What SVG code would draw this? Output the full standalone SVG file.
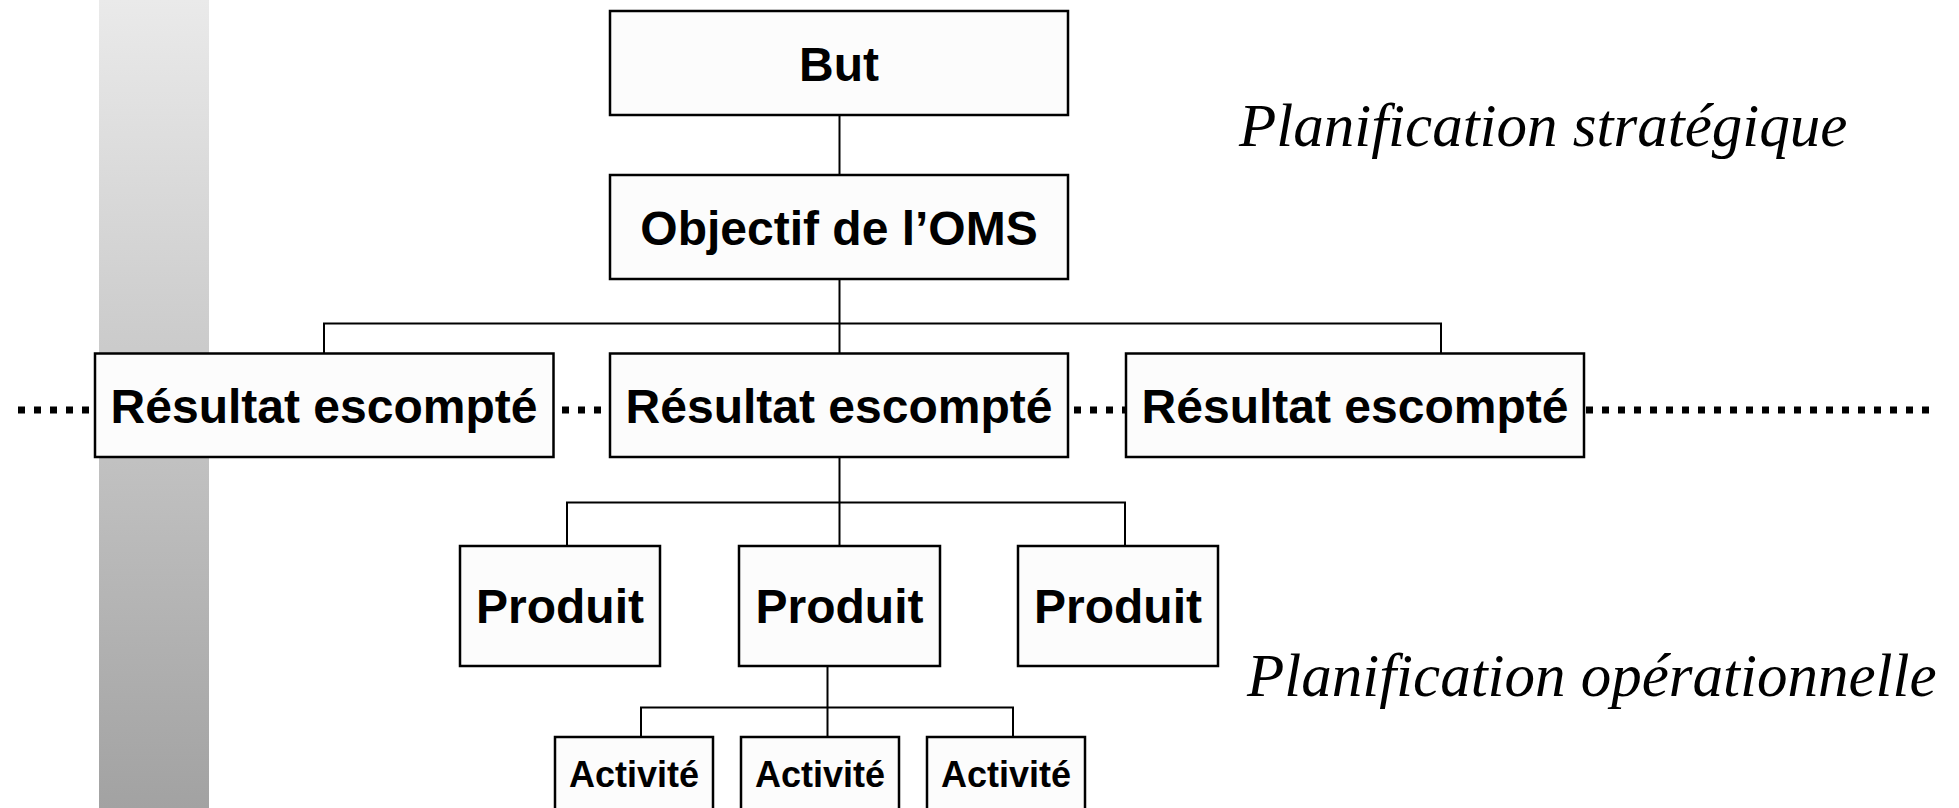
<svg xmlns="http://www.w3.org/2000/svg" width="1959" height="808" viewBox="0 0 1959 808">
  <defs>
    <linearGradient id="bar" x1="0" y1="0" x2="0" y2="1">
      <stop offset="0" stop-color="#eaeaea"/>
      <stop offset="1" stop-color="#a2a2a2"/>
    </linearGradient>
    <style>
      .box { fill: #fcfcfc; stroke: #000; stroke-width: 2.5; }
      .conn { fill: none; stroke: #000; stroke-width: 2; }
      .dots { fill: none; stroke: #000; stroke-width: 7; stroke-dasharray: 7 9; }
      .lbl { font-family: "Liberation Sans", Arial, sans-serif; font-weight: bold; font-size: 48px; text-anchor: middle; fill: #000; }
      .small { font-size: 36px; }
      .side { font-family: "Liberation Serif", "Times New Roman", serif; font-style: italic; font-size: 61px; fill: #000; }
    </style>
  </defs>
  <rect width="1959" height="808" fill="#fff"/>
  <rect id="bar" x="99" y="0" width="110" height="808" fill="url(#bar)"/>

  <g id="dotted-line">
    <line class="dots" x1="18" y1="410" x2="1930" y2="410"/>
  </g>

  <g id="connectors">
    <line class="conn" x1="839.5" y1="115" x2="839.5" y2="175"/>
    <polyline class="conn" points="839.5,279 839.5,323.5"/>
    <polyline class="conn" points="324,353.5 324,323.5 1441,323.5 1441,353.5"/>
    <line class="conn" x1="839.5" y1="323.5" x2="839.5" y2="353.5"/>
    <line class="conn" x1="839.5" y1="457" x2="839.5" y2="546"/>
    <polyline class="conn" points="567,546 567,502.5 1125,502.5 1125,546"/>
    <line class="conn" x1="827.5" y1="666" x2="827.5" y2="737"/>
    <polyline class="conn" points="641,737 641,707.5 1013,707.5 1013,737"/>
  </g>

  <g id="but">
    <rect class="box" x="610" y="11" width="458" height="104"/>
    <text class="lbl" x="839" y="81">But</text>
  </g>
  <g id="objectif">
    <rect class="box" x="610" y="175" width="458" height="104"/>
    <text class="lbl" x="839" y="245">Objectif de l’OMS</text>
  </g>

  <g id="resultat1">
    <rect class="box" x="95" y="353.5" width="458.5" height="103.5"/>
    <text class="lbl" x="324" y="423">Résultat escompté</text>
  </g>
  <g id="resultat2">
    <rect class="box" x="610" y="353.5" width="458" height="103.5"/>
    <text class="lbl" x="839" y="423">Résultat escompté</text>
  </g>
  <g id="resultat3">
    <rect class="box" x="1126" y="353.5" width="458" height="103.5"/>
    <text class="lbl" x="1355" y="423">Résultat escompté</text>
  </g>

  <g id="produit1">
    <rect class="box" x="460" y="546" width="200" height="120"/>
    <text class="lbl" x="560" y="623">Produit</text>
  </g>
  <g id="produit2">
    <rect class="box" x="739" y="546" width="201" height="120"/>
    <text class="lbl" x="839.5" y="623">Produit</text>
  </g>
  <g id="produit3">
    <rect class="box" x="1018" y="546" width="200" height="120"/>
    <text class="lbl" x="1118" y="623">Produit</text>
  </g>

  <g id="activite1">
    <rect class="box" x="555" y="737" width="158" height="80"/>
    <text class="lbl small" x="634" y="787">Activité</text>
  </g>
  <g id="activite2">
    <rect class="box" x="741" y="737" width="158" height="80"/>
    <text class="lbl small" x="820" y="787">Activité</text>
  </g>
  <g id="activite3">
    <rect class="box" x="927" y="737" width="158" height="80"/>
    <text class="lbl small" x="1006" y="787">Activité</text>
  </g>

  <text class="side" x="1239" y="146">Planification stratégique</text>
  <text class="side" x="1247" y="696">Planification opérationnelle</text>
</svg>
